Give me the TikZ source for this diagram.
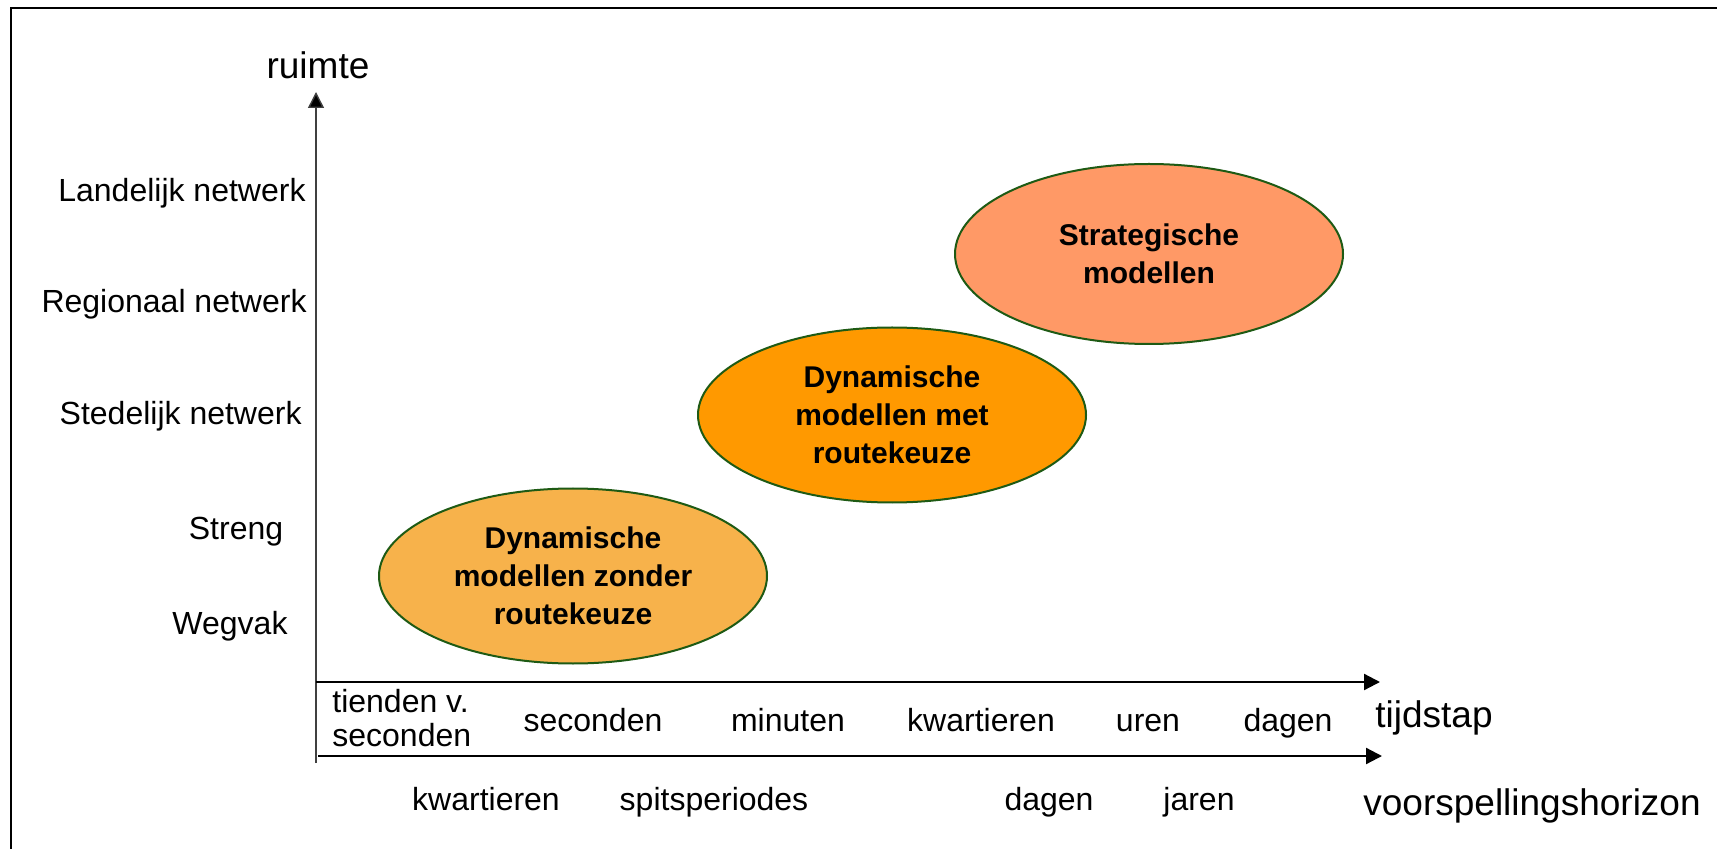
\documentclass[tikz,border=0pt]{standalone}
\usepackage{fontspec}
\setmainfont{Liberation Sans}
\usetikzlibrary{shapes.geometric,arrows.meta}

\definecolor{zonderfill}{HTML}{F7B24B}
\definecolor{metfill}{HTML}{FF9900}
\definecolor{stratfill}{HTML}{FF9966}
\definecolor{rimgreen}{HTML}{1E5A14}

\begin{document}
\begin{tikzpicture}[
			x=0.5pt, y=-0.5pt,
			axis/.style={line width=1.1pt, -{Triangle[length=8pt,width=8pt]}},
			vaxis/.style={line width=0.7pt, draw=black!75, -{Triangle[length=8pt,width=8pt,fill=black]}},
			lbl/.style={inner sep=0pt, font=\fontsize{16}{17}\selectfont},
			title/.style={inner sep=0pt, font=\fontsize{18.5}{20}\selectfont},
			model/.style={ellipse, draw=rimgreen, line width=1pt, inner sep=0pt,
				minimum width=194pt, align=center,
				font=\fontsize{15}{19}\selectfont\bfseries}
			]
			
			\useasboundingbox (0,0) rectangle (1717,849);
			
			% Frame
			\draw[line width=1.3pt] (11,870) -- (11,8) -- (1740,8);
			
			% Axes
			\coordinate (origin) at (316,763);
			\coordinate (ytop) at (316,92);
			\coordinate (t0) at (316,682);
			\coordinate (t1) at (1380,682);
			\coordinate (h0) at (318,756);
			\coordinate (h1) at (1382,756);
			\draw[vaxis] (origin) -- (ytop);
			\draw[axis] (t0) -- (t1);
			\draw[axis] (h0) -- (h1);
			
			% Axis titles
			\node[title, anchor=base] (ruimte) at (318,79) {ruimte};
			\node[title, anchor=base west] (tijdstap) at (1375,727) {tijdstap};
			\node[title, anchor=base west] (horizon) at (1363,815) {voorspellingshorizon};
			
			% Space levels
			\node[lbl, anchor=base east] (landelijk) at (306,202) {Landelijk netwerk};
			\node[lbl, anchor=base east] (regionaal) at (307,313) {Regionaal netwerk};
			\node[lbl, anchor=base east] (stedelijk) at (302,425) {Stedelijk netwerk};
			\node[lbl, anchor=base] (streng) at (236,539) {Streng};
			\node[lbl, anchor=base] (wegvak) at (230,634) {Wegvak};
			
			% Time steps
			\node[lbl, anchor=west, align=left] (tienden) at (332,718) {tienden v.\\seconden};
			\node[lbl, anchor=base] (seconden) at (593,731) {seconden};
			\node[lbl, anchor=base] (minuten) at (788,731) {minuten};
			\node[lbl, anchor=base] (kwartieren) at (981,731) {kwartieren};
			\node[lbl, anchor=base] (uren) at (1148,731) {uren};
			\node[lbl, anchor=base] (dagen) at (1288,731) {dagen};
			
			% Forecast horizons
			\node[lbl, anchor=base] (hkwartieren) at (486,810) {kwartieren};
			\node[lbl, anchor=base] (hspits) at (714,810) {spitsperiodes};
			\node[lbl, anchor=base] (hdagen) at (1049,810) {dagen};
			\node[lbl, anchor=base] (hjaren) at (1199,810) {jaren};
			
			% Model classes
			\node[model, fill=zonderfill, minimum height=87.5pt] (dynzonder) at (573,576)
				{Dynamische\\modellen zonder\\routekeuze};
			\node[model, fill=metfill, minimum height=87.5pt] (dynmet) at (892,415)
				{Dynamische\\modellen met\\routekeuze};
			\node[model, fill=stratfill, minimum height=90pt] (strat) at (1149,254)
				{Strategische\\modellen};
			
		\end{tikzpicture}
\end{document}
